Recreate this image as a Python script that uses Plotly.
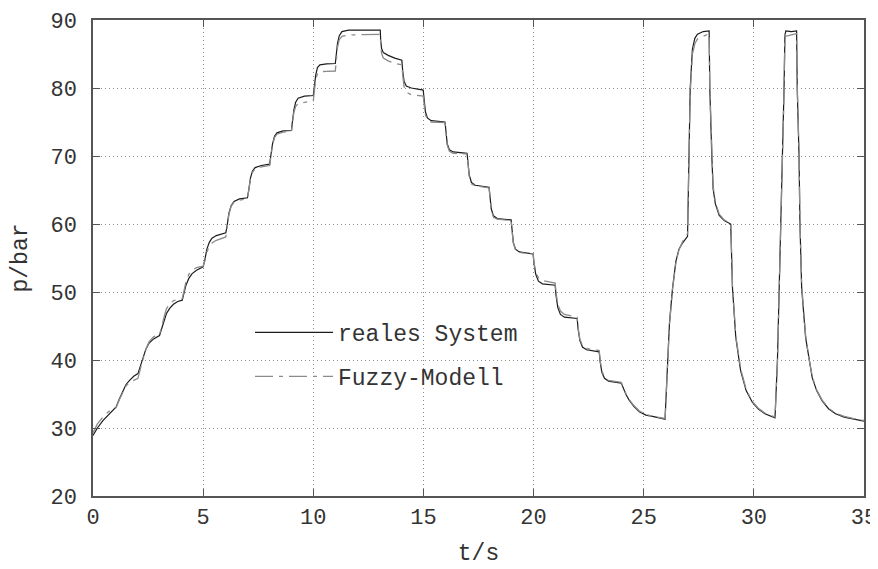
import plotly.graph_objects as go

# time axis (s)
t = [
    0.00, 0.20, 0.45, 0.70, 0.90, 1.05, 1.20, 1.36, 1.50, 1.66,
    1.85, 2.04, 2.15, 2.27, 2.40, 2.55, 2.75, 3.02, 3.10, 3.20,
    3.33, 3.48, 3.65, 3.85, 4.05, 4.12, 4.22, 4.35, 4.50, 4.70,
    5.00, 5.08, 5.17, 5.28, 5.40, 5.60, 6.03, 6.09, 6.17, 6.27,
    6.40, 6.65, 7.01, 7.07, 7.15, 7.24, 7.36, 7.64, 8.02, 8.07,
    8.15, 8.24, 8.35, 8.63, 9.01, 9.05, 9.12, 9.20, 9.31, 9.60,
    10.00, 10.04, 10.11, 10.19, 10.30, 10.60, 11.00, 11.04, 11.10, 11.18,
    11.30, 11.60, 13.04, 13.06, 13.10, 13.18, 13.40, 13.70, 14.02, 14.06,
    14.12, 14.22, 14.45, 14.99, 15.03, 15.09, 15.18, 15.35, 15.98, 16.02,
    16.08, 16.18, 16.35, 16.98, 17.02, 17.08, 17.18, 17.35, 17.98, 18.02,
    18.08, 18.18, 18.35, 18.98, 19.02, 19.08, 19.18, 19.35, 19.98, 20.02,
    20.10, 20.22, 20.40, 20.98, 21.02, 21.10, 21.22, 21.40, 21.98, 22.02,
    22.10, 22.22, 22.40, 22.98, 23.02, 23.10, 23.22, 23.40, 23.98, 24.10,
    24.20, 24.34, 24.55, 24.80, 25.10, 25.40, 25.70, 25.97, 26.02, 26.08,
    26.17, 26.31, 26.46, 26.60, 26.76, 26.99, 27.03, 27.11, 27.21, 27.32,
    27.44, 27.70, 27.97, 28.00, 28.09, 28.15, 28.25, 28.42, 28.65, 28.95,
    29.03, 29.18, 29.40, 29.65, 29.93, 30.20, 30.50, 30.96, 31.07, 31.14,
    31.25, 31.32, 31.37, 31.41, 31.45, 31.70, 31.94, 31.97, 32.05, 32.09,
    32.17, 32.35, 32.50, 32.65, 32.85, 33.10, 33.40, 33.71, 34.10, 34.50,
    35.00,
]

# measured pressure of the real system (bar)
p_real = [
    28.9, 30.0, 31.1, 32.0, 32.6, 33.1, 34.3, 35.5, 36.4, 37.0,
    37.6, 38.0, 39.2, 40.5, 41.6, 42.5, 43.1, 43.6, 44.4, 45.6,
    46.8, 47.6, 48.2, 48.6, 48.8, 49.7, 51.0, 52.0, 52.7, 53.2,
    53.7, 54.8, 56.3, 57.3, 57.9, 58.3, 58.7, 59.8, 61.6, 62.7,
    63.3, 63.7, 63.85, 65.0, 66.8, 67.8, 68.3, 68.6, 68.8, 70.0,
    71.8, 72.9, 73.4, 73.7, 73.75, 75.0, 76.8, 77.9, 78.5, 78.8,
    78.9, 80.0, 81.9, 83.0, 83.4, 83.55, 83.6, 84.8, 86.6, 87.7,
    88.3, 88.5, 88.5, 87.0, 85.8, 85.2, 84.8, 84.4, 84.1, 82.5,
    81.0, 80.3, 80.0, 79.7, 78.2, 76.5, 75.6, 75.2, 75.0, 73.5,
    71.8, 70.9, 70.6, 70.4, 68.8, 67.2, 66.1, 65.7, 65.4, 63.8,
    62.2, 61.2, 60.8, 60.6, 59.0, 57.3, 56.3, 55.9, 55.6, 54.2,
    52.6, 51.6, 51.2, 51.0, 49.5, 47.7, 46.7, 46.3, 46.1, 44.6,
    42.9, 41.9, 41.5, 41.2, 39.8, 38.2, 37.3, 36.9, 36.6, 35.6,
    34.9, 34.1, 33.2, 32.4, 31.9, 31.7, 31.45, 31.3, 35.0, 39.9,
    45.5, 50.6, 54.5, 56.3, 57.2, 58.2, 65.2, 79.9, 85.7, 87.3,
    87.9, 88.3, 88.4, 79.9, 70.1, 65.2, 63.0, 61.3, 60.5, 60.0,
    50.6, 43.3, 38.4, 35.5, 33.8, 32.8, 32.1, 31.5, 39.9, 49.6,
    60.4, 70.1, 79.9, 87.7, 88.4, 88.3, 88.4, 79.9, 70.1, 60.4,
    50.6, 43.3, 40.0, 37.4, 35.5, 34.0, 32.8, 32.1, 31.6, 31.3,
    31.0,
]

# fuzzy model output (bar)
p_model = [
    29.3, 30.6, 31.6, 32.4, 32.8, 33.0, 34.2, 35.4, 36.2, 36.7,
    37.0, 37.3, 38.7, 40.3, 41.6, 42.7, 43.4, 43.8, 44.6, 46.0,
    47.5, 48.3, 48.7, 48.9, 49.0, 50.0, 51.5, 52.6, 53.2, 53.6,
    53.8, 54.6, 55.9, 56.7, 57.2, 57.6, 58.1, 59.5, 61.4, 62.6,
    63.2, 63.5, 63.7, 64.9, 66.7, 67.6, 68.1, 68.4, 68.6, 69.8,
    71.6, 72.7, 73.2, 73.5, 73.6, 74.8, 76.4, 77.3, 77.7, 77.9,
    78.1, 79.3, 81.2, 82.1, 82.4, 82.45, 82.5, 83.9, 86.0, 87.1,
    87.6, 87.8, 87.9, 86.5, 85.1, 84.4, 84.0, 83.6, 83.4, 81.9,
    80.2, 79.4, 79.0, 78.8, 77.6, 76.1, 75.3, 75.0, 74.9, 73.4,
    71.6, 70.7, 70.4, 70.3, 68.7, 67.0, 65.9, 65.6, 65.3, 63.7,
    62.0, 61.0, 60.7, 60.5, 58.9, 57.2, 56.2, 55.8, 55.6, 54.3,
    52.9, 52.1, 51.7, 51.3, 49.9, 48.2, 47.2, 46.7, 46.3, 44.8,
    43.1, 42.1, 41.7, 41.4, 40.0, 38.4, 37.5, 37.0, 36.7, 35.7,
    35.0, 34.2, 33.3, 32.5, 32.0, 31.7, 31.5, 31.4, 34.8, 39.6,
    45.2, 50.4, 54.3, 56.2, 57.4, 58.6, 64.8, 79.2, 85.0, 86.5,
    87.2, 87.6, 88.0, 80.2, 70.5, 65.6, 63.3, 61.5, 60.6, 60.1,
    50.9, 43.6, 38.7, 35.7, 33.9, 32.9, 32.2, 31.6, 39.5, 49.2,
    60.0, 69.6, 79.4, 88.0, 87.6, 87.8, 88.0, 80.3, 70.6, 60.9,
    51.0, 43.6, 40.2, 37.6, 35.6, 34.1, 32.9, 32.2, 31.7, 31.4,
    31.1,
]

x_ticks = [0, 5, 10, 15, 20, 25, 30, 35]
y_ticks = [20, 30, 40, 50, 60, 70, 80, 90]
series_names = ["reales System", "Fuzzy-Modell"]

FONT = "Liberation Mono, Courier New, monospace"
TXT = "#333333"

fig = go.Figure()
fig.add_trace(go.Scatter(
    x=t, y=p_real, mode="lines", name=series_names[0], legendgroup="a",
    line=dict(color="#1c1c1c", width=1.2),
))
fig.add_trace(go.Scatter(
    x=t, y=p_model, mode="lines", name=series_names[1], legendgroup="b",
    line=dict(color="#8a8a8a", width=1.3, dash="18px,6px,4px,6px"),
))

axis_common = dict(
    showgrid=True, gridcolor="#8c8c8c", gridwidth=1, griddash="1px,3px",
    showline=True, linecolor="#555555", linewidth=1.5, mirror="ticks",
    ticks="inside", ticklen=7, tickcolor="#555555", tickwidth=1.2,
    zeroline=False, automargin=False,
    tickfont=dict(family=FONT, size=22, color=TXT),
)

# page body keeps an 8px margin, so the figure is sized to fit the window
fig.update_layout(
    width=870, height=561,
    margin=dict(l=85, r=14, t=12, b=73),
    paper_bgcolor="white", plot_bgcolor="white",
    xaxis=dict(range=[0, 35], tickvals=x_ticks, ticklabelstandoff=0,
               title=dict(text="t/s", font=dict(family=FONT, size=23, color=TXT), standoff=14),
               **axis_common),
    yaxis=dict(range=[20, 90], tickvals=y_ticks, ticklabelstandoff=10,
               title=dict(text="p/bar", font=dict(family=FONT, size=23, color=TXT), standoff=19),
               **axis_common),
    legend=dict(
        x=(250 - 93) / 771, y=(496 - 311) / 476, xanchor="left", yanchor="top",
        bgcolor="rgba(0,0,0,0)", borderwidth=0,
        font=dict(family=FONT, size=23, color=TXT),
        itemwidth=78, tracegroupgap=11,
    ),
    showlegend=True,
)

fig.write_html("out.html")
